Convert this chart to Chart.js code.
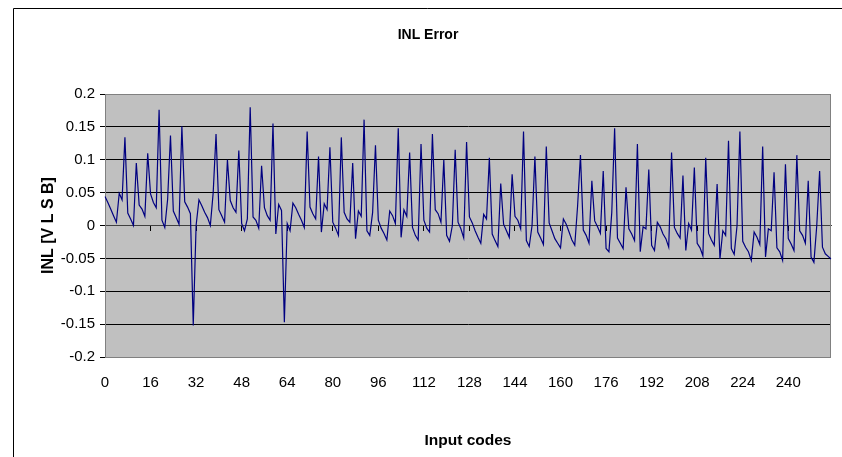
<!DOCTYPE html>
<html><head><meta charset="utf-8">
<script src="https://cdn.jsdelivr.net/npm/chart.js@4.4.0/dist/chart.umd.min.js"></script>
<style>html,body{margin:0;padding:0;background:#fff;}#wrap{width:842px;height:457px;}</style>
</head><body><div id="wrap"><canvas id="c" width="842" height="457"></canvas></div>
<script>
// Input codes (categories)
const inputCodes = Array.from({length: 256}, (_, i) => String(i));
// X tick labels shown every 16 codes
const xTickLabels = ['0','16','32','48','64','80','96','112','128','144','160','176','192','208','224','240'];
// Y ticks
const yTickValues = [-0.2,-0.15,-0.1,-0.05,0,0.05,0.1,0.15,0.2];
const yTickLabels = ['-0.2','-0.15','-0.1','-0.05','0','0.05','0.1','0.15','0.2'];
// INL error values [LSB]
const inlError = [
 0.044, 0.035, 0.025, 0.015, 0.005, 0.049, 0.039, 0.134,
 0.019, 0.010, 0.000, 0.095, 0.031, 0.025, 0.014, 0.110,
 0.048, 0.035, 0.027, 0.176, 0.008,-0.003, 0.040, 0.137,
 0.022, 0.012, 0.002, 0.151, 0.036, 0.028, 0.018,-0.152,
 0.000, 0.039, 0.030, 0.020, 0.012, 0.000, 0.050, 0.139,
 0.024, 0.015, 0.005, 0.100, 0.038, 0.027, 0.020, 0.114,
 0.003,-0.008, 0.010, 0.180, 0.013, 0.008,-0.004, 0.091,
 0.027, 0.015, 0.008, 0.155,-0.013, 0.032, 0.023,-0.147,
 0.003,-0.008, 0.034, 0.027, 0.017, 0.008,-0.003, 0.143,
 0.028, 0.018, 0.010, 0.105,-0.010, 0.033, 0.024, 0.119,
 0.005,-0.004,-0.015, 0.134, 0.020, 0.010, 0.005, 0.095,
-0.020, 0.022, 0.014, 0.161,-0.008,-0.015, 0.020, 0.122,
 0.008,-0.004,-0.012,-0.022, 0.022, 0.015, 0.003, 0.148,
-0.018, 0.024, 0.014, 0.111,-0.003,-0.015,-0.022, 0.124,
 0.008,-0.004,-0.010, 0.139, 0.024, 0.018, 0.005, 0.100,
-0.015,-0.024, 0.000, 0.115, 0.005,-0.005,-0.019, 0.127,
 0.013, 0.004,-0.008,-0.018,-0.027, 0.017, 0.010, 0.103,
-0.013,-0.023,-0.032, 0.064, 0.002,-0.008,-0.018, 0.078,
 0.014, 0.008,-0.005, 0.143,-0.023,-0.032, 0.000, 0.105,
-0.010,-0.019,-0.029, 0.120, 0.004,-0.008,-0.020,-0.027,
-0.034, 0.010, 0.002,-0.010,-0.022,-0.030, 0.030, 0.107,
-0.007,-0.015,-0.027, 0.068, 0.007,-0.002,-0.012, 0.083,
-0.035,-0.040, 0.020, 0.148,-0.019,-0.027,-0.035, 0.058,
-0.005,-0.013,-0.023, 0.124,-0.040,-0.002,-0.005, 0.085,
-0.030,-0.038, 0.005,-0.002,-0.013,-0.020,-0.033, 0.111,
-0.003,-0.012,-0.019, 0.076,-0.038, 0.003,-0.007, 0.088,
-0.027,-0.034,-0.046, 0.103,-0.012,-0.022,-0.030, 0.063,
-0.051,-0.008,-0.015, 0.129,-0.035,-0.044, 0.000, 0.143,
-0.024,-0.033,-0.040,-0.053,-0.010,-0.018,-0.029, 0.120,
-0.048,-0.005,-0.008, 0.081,-0.034,-0.040,-0.053, 0.093,
-0.020,-0.028,-0.038, 0.107,-0.008,-0.015,-0.027, 0.068,
-0.048,-0.056, 0.000, 0.083,-0.033,-0.043,-0.047,-0.051
];

const FONT = "'Liberation Sans',Arial,sans-serif";

const decor = {
  id: 'decor',
  beforeDraw(chart) {
    const {ctx, chartArea: a} = chart;
    ctx.save();
    ctx.fillStyle = '#c0c0c0';
    ctx.fillRect(a.left, a.top, a.right - a.left, a.bottom - a.top);
    ctx.strokeStyle = '#000';
    ctx.lineWidth = 1;
    ctx.beginPath();
    ctx.moveTo(13.5, 457); ctx.lineTo(13.5, 8.5); ctx.lineTo(842, 8.5);
    ctx.stroke();
    ctx.restore();
  },
  beforeDatasetsDraw(chart) {
    const {ctx, chartArea: a} = chart;
    ctx.save();
    ctx.strokeStyle = '#808080';
    ctx.lineWidth = 1;
    ctx.strokeRect(Math.round(a.left) + 0.5, Math.round(a.top) + 0.5,
                   Math.round(a.right - a.left) - 1, Math.round(a.bottom - a.top));
    ctx.restore();
  }
};

new Chart(document.getElementById('c'), {
  type: 'line',
  data: {
    labels: inputCodes,
    datasets: [{
      data: inlError,
      xAxisID: 'x',
      yAxisID: 'y',
      borderColor: '#000080',
      borderWidth: 1.2,
      pointRadius: 0,
      tension: 0,
      fill: false
    }]
  },
  options: {
    responsive: false,
    animation: false,
    devicePixelRatio: 1,
    layout: {padding: {left: 25, right: 11, top: 0, bottom: 0}},
    plugins: {
      legend: {display: false},
      tooltip: {enabled: false},
      title: {
        display: true,
        text: 'INL Error',
        color: '#000',
        font: {family: FONT, size: 14, weight: 'bold', lineHeight: 1.2},
        padding: {top: 26.6, bottom: 50.6}
      }
    },
    scales: {
      x: {
        type: 'category',
        position: {y: 0},
        offset: false,
        grid: {display: true, drawOnChartArea: false, drawTicks: true, tickLength: 5, color: '#000'},
        border: {display: true, color: '#404040', width: 1},
        ticks: {display: false, autoSkip: false},
        afterBuildTicks(scale) {
          scale.ticks = xTickLabels.map(l => ({value: inputCodes.indexOf(l)}));
        }
      },
      x2: {
        type: 'category',
        position: 'bottom',
        offset: false,
        grid: {display: false, drawTicks: false},
        border: {display: false},
        ticks: {autoSkip: false, maxRotation: 0, padding: 17, color: '#000',
                font: {family: FONT, size: 15}},
        afterBuildTicks(scale) {
          scale.ticks = xTickLabels.map(l => ({value: inputCodes.indexOf(l)}));
        },
        afterFit(scale) { scale.height = 100; },
        title: {display: true, text: 'Input codes', color: '#000',
                font: {family: FONT, size: 15.5, weight: 'bold', lineHeight: 1.2},
                padding: {top: 0, bottom: 6.7}}
      },
      y: {
        type: 'linear',
        position: 'left',
        min: -0.2,
        max: 0.2,
        grid: {color: '#000', lineWidth: 1, tickLength: 5, drawTicks: true},
        border: {display: true, color: '#808080', width: 1},
        ticks: {padding: 5, color: '#000', font: {family: FONT, size: 15},
                callback: (v, i) => yTickLabels[i]},
        afterBuildTicks(scale) {
          scale.ticks = yTickValues.map(v => ({value: v}));
        },
        afterFit(scale) { scale.width = 80; },
        title: {display: true, text: 'INL [V L S B]', color: '#000',
                font: {family: FONT, size: 16, weight: 'bold', lineHeight: 1.2},
                padding: {top: 14.4, bottom: 0}}
      }
    }
  },
  plugins: [decor]
});
</script></body></html>
